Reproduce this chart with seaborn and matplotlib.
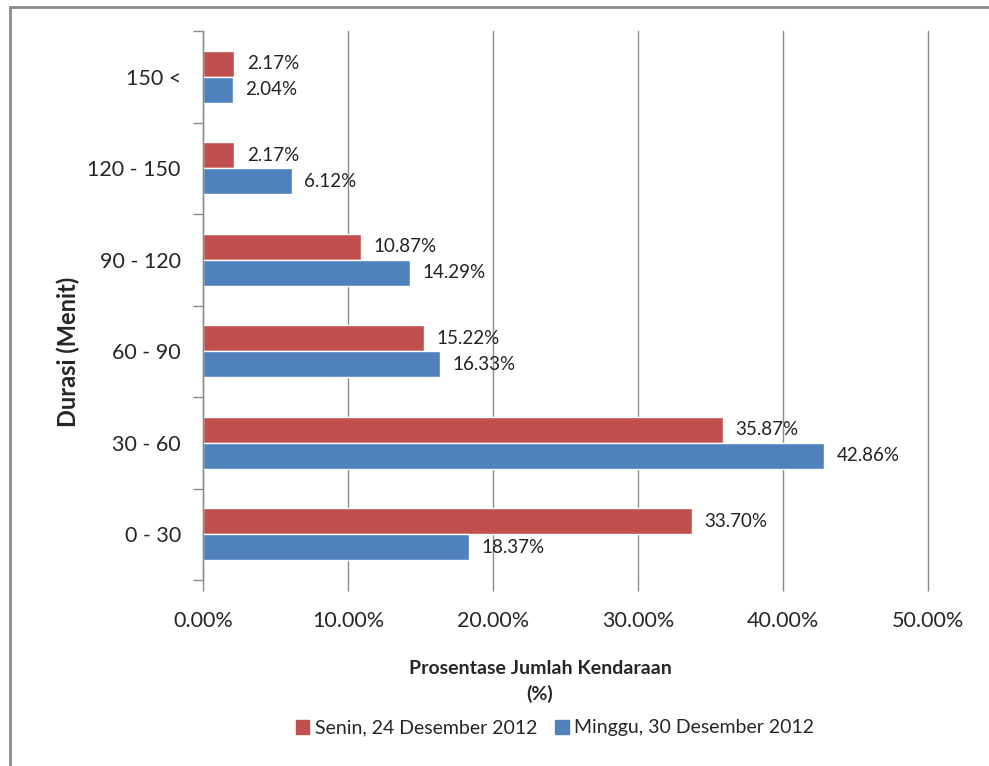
import numpy as np
import matplotlib
matplotlib.use("Agg")
import matplotlib.pyplot as plt
import matplotlib.patches as mpatches
from matplotlib.ticker import FuncFormatter, FixedLocator
import seaborn as sns
import pandas as pd

# data
durasi = ["150 <", "120 - 150", "90 - 120", "60 - 90", "30 - 60", "0 - 30"]
senin = [2.17, 2.17, 10.87, 15.22, 35.87, 33.70]
minggu = [2.04, 6.12, 14.29, 16.33, 42.86, 18.37]
seri = ["Senin, 24 Desember 2012", "Minggu, 30 Desember 2012"]
warna = ["#C0504D", "#4F81BD"]
x_ticks = [0, 10, 20, 30, 40, 50]

df = pd.DataFrame({
    "Durasi": durasi * 2,
    "Nilai": senin + minggu,
    "Seri": [seri[0]] * len(durasi) + [seri[1]] * len(durasi),
})

sns.set_style("white")
plt.rcParams["font.family"] = ["Lato", "DejaVu Sans"]

fig = plt.figure(figsize=(9.89, 7.66), dpi=100)
ax = fig.add_axes([203 / 989, 1 - 580 / 766, (928 - 203) / 989, (580 - 31) / 766])

sns.barplot(data=df, y="Durasi", x="Nilai", hue="Seri", order=durasi,
            hue_order=seri, palette=warna, orient="h", width=0.57,
            saturation=1, ax=ax, legend=False)

for cont in ax.containers:
    ax.bar_label(cont, fmt="%.2f%%", padding=9, fontsize=13.5, color="#222222")

ax.set_xlim(0, 50)
ax.set_ylim(len(durasi) - 0.5, -0.5)
ax.xaxis.set_major_locator(FixedLocator(x_ticks))
ax.xaxis.set_major_formatter(FuncFormatter(lambda v, p: f"{v:.2f}%"))
ax.grid(axis="x", color="#8c8c8c", linewidth=1)
for gl in ax.get_xgridlines():
    gl.set_clip_on(False)
ax.set_axisbelow(True)

for s in ["top", "right", "bottom"]:
    ax.spines[s].set_visible(False)
ax.spines["left"].set_color("#8c8c8c")
ax.spines["left"].set_linewidth(1)

ax.tick_params(axis="x", which="major", direction="out", length=8, width=1,
               color="#8c8c8c", labelsize=15.5, pad=14, bottom=True)
ax.tick_params(axis="y", which="major", length=0, labelsize=15.5, pad=16)
ax.set_yticks(np.arange(-0.5, len(durasi), 1), minor=True)
ax.tick_params(axis="y", which="minor", direction="out", length=7, width=1,
               color="#8c8c8c", left=True)

ax.set_xlabel("Prosentase Jumlah Kendaraan\n(%)", fontsize=14, fontweight="bold",
              linespacing=1.55)
ax.xaxis.set_label_coords((540 - 203) / 725, (580 - 660) / 549)
ax.set_ylabel("Durasi (Menit)", fontsize=17, fontweight="bold")
ax.yaxis.set_label_coords((80 - 203) / 725, (580 - 352) / 549)

handles = [mpatches.Patch(color=c, label=l) for c, l in zip(warna, seri)]
fig.legend(handles=handles, loc="center", bbox_to_anchor=(555 / 989, 1 - 728 / 766),
           ncol=2, frameon=False, fontsize=14, handlelength=0.7, handleheight=0.7,
           handletextpad=0.3, columnspacing=0.9)

# outer chart frame
fig.patches.append(mpatches.Rectangle((10 / 989, -0.05), 1.1, 1 - 7 / 766 + 0.05,
                                      transform=fig.transFigure, fill=False,
                                      edgecolor="#8a8a8a", linewidth=2))

fig.savefig("out.png", dpi=100)
